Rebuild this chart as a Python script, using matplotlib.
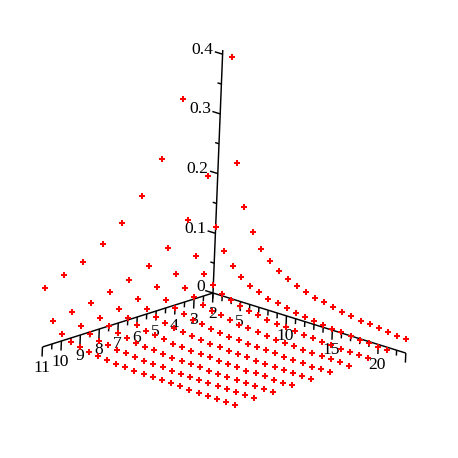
import numpy as np
import matplotlib
matplotlib.use("Agg")
import matplotlib.pyplot as plt
from mpl_toolkits.mplot3d import proj3d

plt.rcParams['font.family'] = ['Liberation Serif', 'DejaVu Serif']

nan = float('nan')
x_values = [2, 3, 4, 5, 6, 7, 8, 9, 10, 11]
y_values = list(range(2, 24))
# one list per x value, for y = 2 ... 23 (nan: above the plotted range)
z_x2 = [nan, .400, .227, .158, .121, .098, .082, .071, .062, .055, .050, .045, .042, .038, .036, .033, .030, .029, .027, .026, .024, .023]
z_x3 = [nan, .210, .131, .094, .074, .060, .051, .045, .039, .036, .032, .030, .027, .025, .023, .022, .021, .019, .018, .017, .016, .015]
z_x4 = [.345, .148, .091, .067, .053, .043, .037, .032, .029, .026, .023, .021, .020, .018, .017, .016, .015, .014, .013, .013, .012, .011]
z_x5 = [.255, .111, .071, .053, .042, .034, .029, .026, .023, .020, .019, .017, .016, .014, .014, .013, .012, .011, .011, .010, .010, .009]
z_x6 = [.203, .091, .059, .043, .034, .029, .024, .021, .019, .017, .015, .014, .013, .012, .011, .011, .010, .009, .009, .008, .008, .008]
z_x7 = [.168, .077, .050, .037, .029, .024, .021, .018, .016, .014, .013, .012, .011, .010, .010, .009, .008, .008, .008, .007, .007, .007]
z_x8 = [.142, .067, .043, .032, .026, .021, .018, .016, .014, .013, .011, .011, .010, .009, .008, .008, .007, .007, .007, .006, .006, .006]
z_x9 = [.122, .059, .038, .029, .023, .019, .016, .014, .0125, .011, .010, .009, .009, .008, .0075, .007, .0066, .006, .006, .0056, .0053, .005]
z_x10 = [.110, .053, .034, .026, .020, .017, .0145, .0127, .011, .010, .009, .0084, .0078, .0072, .0067, .0063, .0059, .0056, .0053, .005, .0048, .0046]
z_x11 = [.099, .048, .031, .023, .0185, .0154, .013, .0115, .010, .009, .0083, .0076, .007, .0065, .006, .0057, .0054, .005, .0048, .0046, .0043, .0041]
z_rows = [z_x2, z_x3, z_x4, z_x5, z_x6, z_x7, z_x8, z_x9, z_x10, z_x11]

x_tick_labels = [2, 3, 4, 5, 6, 7, 8, 9, 10, 11]
y_tick_labels = [5, 10, 15, 20]
z_tick_labels = [0.1, 0.2, 0.3, 0.4]

W = 458
fig = plt.figure(figsize=(W / 100, W / 100), dpi=100, facecolor='white')
ax = fig.add_axes([0, 0, 1, 1], projection='3d', proj_type='ortho', computed_zorder=False)
ax.set_axis_off()
ax.set_xlim(2, 11)
ax.set_ylim(2, 23)
ax.set_zlim(0, 0.4)
ax.apply_aspect()

# Oblique view: screen pixels per data unit, origin of the axes at (2, 2, 0)
ORIGIN = (213.0, 293.0)
DX = (-18.95, 6.0)
DY = (9.18, 2.86)
DZ = (24.0, -597.0)


def view_matrix():
    px = np.array([DX[0], DY[0], DZ[0]])
    py = np.array([-DX[1], -DY[1], -DZ[1]])
    d0x = ORIGIN[0] - 2 * px[0] - 2 * px[1]
    d0y = W - ORIGIN[1] - 2 * py[0] - 2 * py[1]
    depth = np.cross(px, py)
    depth = depth / np.linalg.norm(depth)
    to_pixels = np.array([[px[0], px[1], px[2], d0x],
                          [py[0], py[1], py[2], d0y],
                          [depth[0], depth[1], depth[2], 0.0],
                          [0.0, 0.0, 0.0, 1.0]])
    inv = ax.transData.inverted().get_matrix()
    to_data = np.array([[inv[0, 0], inv[0, 1], 0, inv[0, 2]],
                        [inv[1, 0], inv[1, 1], 0, inv[1, 2]],
                        [0, 0, 1, 0],
                        [0, 0, 0, 1]])
    return to_data @ to_pixels


ax.get_proj = view_matrix
VIEW = view_matrix()


def label(x, y, z, s, ha):
    sx, sy, _ = proj3d.proj_transform(x, y, z, VIEW)
    ax.text2D(sx, sy, s, transform=ax.transData, ha=ha, va='center',
              fontsize=12.6, color='black', zorder=3, clip_on=False)


INK = dict(color='black', lw=1.05, solid_capstyle='butt', clip_on=False, zorder=2)
ax.plot([2, 11], [2, 2], [0, 0], **INK)
ax.plot([2, 2], [2, 23], [0, 0], **INK)
ax.plot([2, 2], [2, 2], [0, 0.407], **INK)

MAJOR_DROP = 0.016
MINOR_DROP = 0.009
for v in np.arange(2, 11.01, 0.5):
    d = MAJOR_DROP if float(v).is_integer() else MINOR_DROP
    ax.plot([v, v], [2, 2], [0, -d], **INK)
for v in range(2, 24):
    d = MAJOR_DROP if v % 5 == 0 or v == 23 else MINOR_DROP
    ax.plot([2, 2], [v, v], [0, -d], **INK)
for v in np.arange(0.05, 0.401, 0.05):
    major = abs(v * 10 - round(v * 10)) < 1e-6
    d = 0.85 if major else 0.42
    ax.plot([2, 2], [2, 2 - d], [v, v], **INK)
ax.plot([2, 2], [2, 1.15], [0, 0], **INK)

for v in x_tick_labels:
    label(v, 2, -0.035, str(v), 'center')
for v in y_tick_labels:
    label(2, v, -0.034, str(v), 'center')
for v in z_tick_labels:
    label(2, 1.0, v + 0.003, f'{v:.1f}', 'right')
label(2, 1.1, 0.006, '0', 'right')

for xv, row in zip(x_values, z_rows):
    ax.plot([xv] * len(y_values), y_values, row, linestyle='none', marker='+',
            markersize=5.0, markeredgewidth=1.45, color='#ff0000', clip_on=False, zorder=4)

fig.savefig('out.png', dpi=100, facecolor='white')
